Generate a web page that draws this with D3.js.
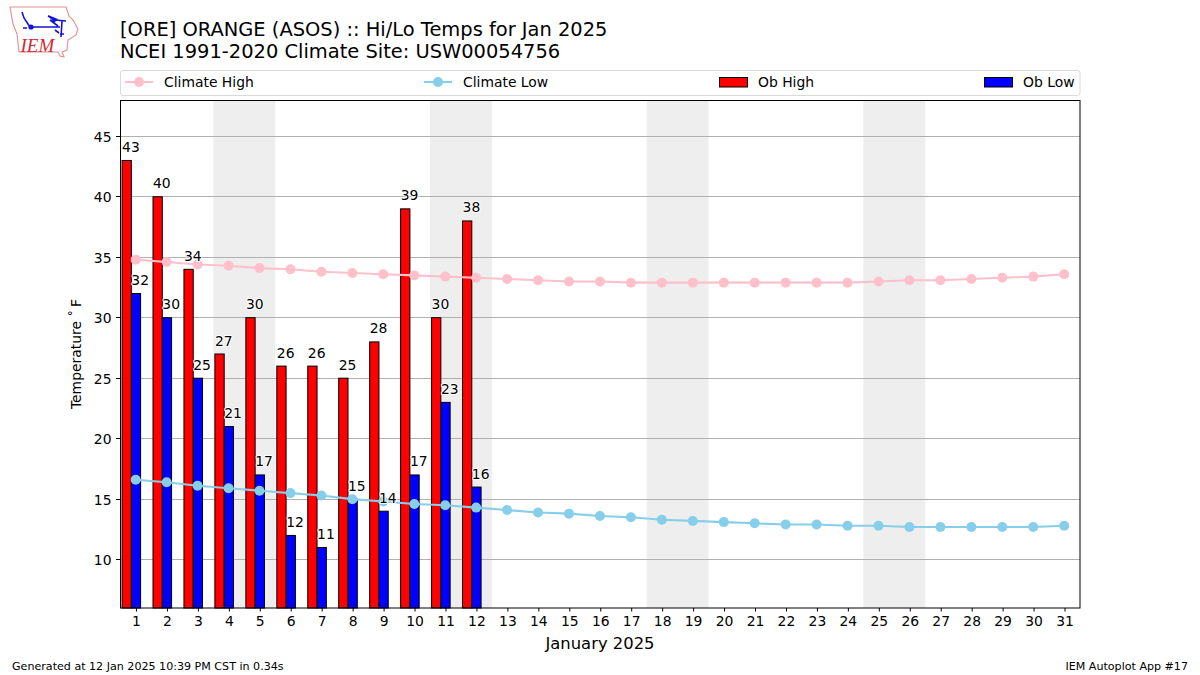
<!DOCTYPE html>
<html><head><meta charset="utf-8">
<script src="https://cdn.jsdelivr.net/npm/d3@7/dist/d3.min.js"></script>
<style>html,body{margin:0;padding:0;background:#fff}svg{display:block}text{font-family:"DejaVu Sans";fill:#000}</style>
</head><body><svg id="c" width="1200" height="675"></svg>
<script>
const days = d3.range(1, 32);
const climateHigh = [34.8,34.6,34.4,34.3,34.1,34.0,33.8,33.7,33.6,33.5,33.4,33.3,33.2,33.1,33.0,33.0,32.9,32.9,32.9,32.9,32.9,32.9,32.9,32.9,33.0,33.1,33.1,33.2,33.3,33.4,33.6];
const climateLow = [16.6,16.4,16.1,15.9,15.7,15.5,15.3,15.0,14.8,14.6,14.5,14.3,14.1,13.9,13.8,13.6,13.5,13.3,13.2,13.1,13.0,12.9,12.9,12.8,12.8,12.7,12.7,12.7,12.7,12.7,12.8];
const obHigh = [43,40,34,27,30,26,26,25,28,39,30,38];
const obLow = [32,30,25,21,17,12,11,15,14,17,23,16];
const weekends = [[4,5],[11,12],[18,19],[25,26]];
const yTicks = [10,15,20,25,30,35,40,45];
const titleLines = ["[ORE] ORANGE (ASOS) :: Hi/Lo Temps for Jan 2025","NCEI 1991-2020 Climate Site: USW00054756"];
const legendItems = ["Climate High","Climate Low","Ob High","Ob Low"];

const svg = d3.select("#c");
const L=120.5,R=1080,T=100.5,B=608;
const x = d3.scaleLinear().domain([0.5,31.5]).range([L,R]);
const y = d3.scaleLinear().domain([6,48]).range([B,100]);
const fs = 13.9;

// Logo
const logo = svg.append("g");
logo.append("path").attr("d","M10 7 L66 7 L69 16 L73 20 L78 29 L76 35 L68 40 L67 50 L62 52 L64 57 L60 56 L58 52 L19 52 L17 34 L13 24 Z")
  .attr("fill","#fff").attr("stroke","#e48f8f").attr("stroke-width",1.1);
logo.append("path").attr("d","M22 12 L24 18 L30 27 M31 27 L60 27 M48 16 L55 20 L66 21 M50 20 L58 26 M62 21 L61 37 M55 30 L59 33 M60 34 L64 34 M23 28 L27 28")
  .attr("fill","none").attr("stroke","#1414d2").attr("stroke-width",1.6);
logo.append("path").attr("d","M48 15 L58 19 L54 23 Z").attr("fill","#1414d2");
logo.append("circle").attr("cx",31).attr("cy",27).attr("r",2.6).attr("fill","#1414d2");
logo.append("text").attr("x",20.5).attr("y",52).attr("font-size",19).style("font-family","'Liberation Serif'").style("font-style","italic").style("fill","#d42a30").text("IEM");

// Title
svg.append("g").selectAll("text").data(titleLines).join("text")
  .attr("x",120).attr("y",(d,i)=>36+i*22).attr("font-size",19.44).text(d=>d);

// Legend
svg.append("rect").attr("x",120.5).attr("y",70.5).attr("width",959.5).attr("height",25).attr("rx",2.5)
  .attr("fill","#fff").attr("stroke","#d9d9d9").attr("stroke-width",1);
const legX=[125,424,719,984], legT=[164,463,758,1023], legY=82;
legendItems.forEach((t,i)=>{
  if(i<2){
    const c=i==0?"pink":"skyblue";
    svg.append("line").attr("x1",legX[i]).attr("x2",legX[i]+28).attr("y1",legY).attr("y2",legY).attr("stroke",c).attr("stroke-width",2.08);
    svg.append("circle").attr("cx",legX[i]+14).attr("cy",legY).attr("r",5).attr("fill",c);
  } else {
    svg.append("rect").attr("x",legX[i]+.5).attr("y",77.5).attr("width",28).attr("height",9.5).attr("fill",i==2?"red":"blue").attr("stroke","#000").attr("stroke-width",1);
  }
  svg.append("text").attr("x",legT[i]).attr("y",86.5).attr("font-size",fs).text(t);
});

// Weekends
svg.append("g").selectAll("rect").data(weekends).join("rect")
  .attr("x",d=>x(d[0]-.5)).attr("width",d=>x(d[1]+.5)-x(d[0]-.5))
  .attr("y",T).attr("height",B-T).attr("fill","#eeeeee");

// Grid
svg.append("g").selectAll("line").data(yTicks).join("line")
  .attr("x1",L).attr("x2",R).attr("y1",d=>Math.floor(y(d))+.5).attr("y2",d=>Math.floor(y(d))+.5)
  .attr("stroke","#b0b0b0").attr("stroke-width",1);

// Bars
const bars=(vals,off,col)=>svg.append("g").selectAll("rect").data(vals).join("rect")
  .attr("x",(d,i)=>x(i+1+off)).attr("width",x(1.3)-x(1))
  .attr("y",d=>y(d)).attr("height",d=>B-y(d))
  .attr("fill",col).attr("stroke","#000").attr("stroke-width",1);
bars(obHigh,-.45,"red");
bars(obLow,-.15,"blue");

// Climate lines
const line=d3.line().x((d,i)=>x(i+1)-.3).y(d=>y(d));
[[climateHigh,"pink"],[climateLow,"skyblue"]].forEach(([v,c])=>{
  svg.append("path").attr("d",line(v)).attr("fill","none").attr("stroke",c).attr("stroke-width",2.08);
  svg.append("g").selectAll("circle").data(v).join("circle")
    .attr("cx",(d,i)=>x(i+1)-.3).attr("cy",d=>y(d)).attr("r",5).attr("fill",c);
});

// Value labels
const labels=(vals,off)=>svg.append("g").selectAll("text").data(vals).join("text")
  .attr("x",(d,i)=>x(i+1+off)-.4).attr("y",d=>y(d)-8.5)
  .attr("text-anchor","middle").attr("font-size",fs)
  .attr("stroke","#fff").attr("stroke-width",2).attr("paint-order","stroke").attr("stroke-linejoin","round")
  .text(d=>d);
labels(obHigh,-.15);
labels(obLow,.15);

// Frame
svg.append("rect").attr("x",L).attr("y",T).attr("width",R-L).attr("height",B-T).attr("fill","none").attr("stroke","#000").attr("stroke-width",1);

// Axes
const xa=svg.append("g").attr("transform",`translate(0,${B})`).call(d3.axisBottom(x).tickValues(days).tickFormat(d3.format("d")).tickSize(3.5).tickPadding(4.5));
const ya=svg.append("g").attr("transform",`translate(${L},0)`).call(d3.axisLeft(y).tickValues(yTicks).tickSize(4.5).tickPadding(4.5));
[xa,ya].forEach(a=>{a.select(".domain").remove();a.selectAll("text").attr("font-size",fs).style("font-family","DejaVu Sans").style("fill","#000");a.selectAll("line").attr("stroke","#000");});
ya.selectAll(".tick").attr("transform",d=>`translate(0,${Math.floor(y(d))+.5})`);
ya.selectAll("text").attr("y",0.7);

// Axis titles
svg.append("text").attr("x",600).attr("y",649).attr("text-anchor","middle").attr("font-size",16.4).text("January 2025");
svg.append("text").attr("transform","translate(81,354) rotate(-90)").attr("text-anchor","middle").attr("font-size",fs).text("Temperature \u02DA\u2009F");

// Footer
svg.append("text").attr("x",12).attr("y",670).attr("font-size",11.1).text("Generated at 12 Jan 2025 10:39 PM CST in 0.34s");
svg.append("text").attr("x",1188).attr("y",670).attr("text-anchor","end").attr("font-size",11.1).text("IEM Autoplot App #17");
</script></body></html>
